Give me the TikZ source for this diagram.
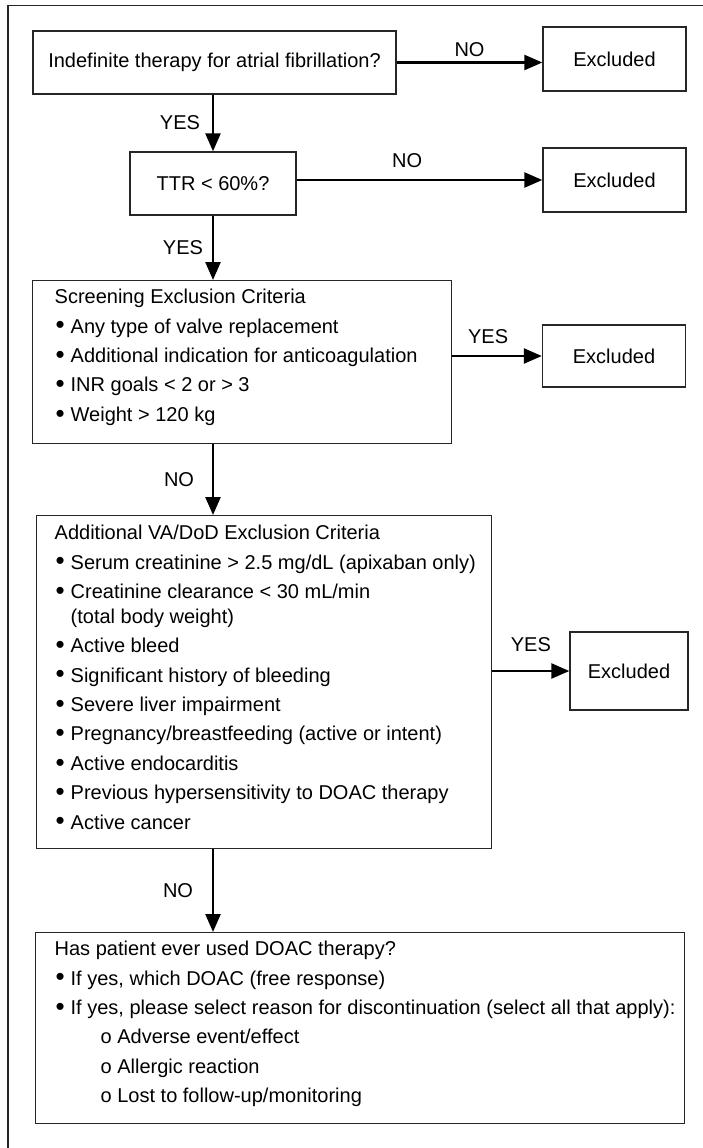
\documentclass[tikz,border=0pt]{standalone}
\usepackage{fontspec}
\usepackage{graphicx}
\setmainfont{Liberation Sans}
\usetikzlibrary{arrows.meta}
\newcommand\fs{\fontsize{20}{29.4}\selectfont}
\newcommand\bul{\makebox[16pt][l]{\hspace{1pt}\raisebox{-0.8pt}{\scalebox{1.3}{•}}}}
\begin{document}
\begin{tikzpicture}[x=1pt,y=-1pt,
  box/.style={draw=black!85, line width=1.35pt, inner sep=0pt, font=\fs},
  conn/.style={line width=2.4pt, -{Triangle[length=18pt,width=15pt]}},
  lab/.style={font=\fs, inner sep=0pt}]
\useasboundingbox (0,0) rectangle (703,1148);
\clip (0,0) rectangle (703,1148);
\draw[line width=1.3pt, black!85] (8,1160) -- (8,5.5) -- (720,5.5);

\node[box, minimum width=363pt, minimum height=63pt] (q1) at (214.5,62.5) {Indefinite therapy for atrial fibrillation?};
\node[box, minimum width=143pt, minimum height=64pt] (x1) at (614.5,59) {Excluded};
\node[box, minimum width=166pt, minimum height=63pt] (q2) at (213,183.5) {TTR < 60\%?};
\node[box, minimum width=143pt, minimum height=64pt] (x2) at (614.5,180) {Excluded};

\node[box, anchor=north west] (scr) at (32,280) {\hspace*{22pt}\parbox[c][163pt][t]{397pt}{\raggedright\vspace*{2.4pt}\strut Screening Exclusion Criteria\\
\bul Any type of valve replacement\\
\bul Additional indication for anticoagulation\\
\bul INR goals < 2 or > 3\\
\bul Weight > 120 kg}};
\node[box, minimum width=143pt, minimum height=62pt] (x3) at (614,356) {Excluded};

\node[box, anchor=north west] (va) at (36,515) {\hspace*{18pt}\parbox[c][333pt][t]{437pt}{\raggedright\vspace*{3.4pt}\strut Additional VA/DoD Exclusion Criteria\\
\bul Serum creatinine > 2.5 mg/dL (apixaban only)\\
\bul Creatinine clearance < 30 mL/min\\[-4.5pt]
\hspace*{16pt}(total body weight)\\
\bul Active bleed\\
\bul Significant history of bleeding\\
\bul Severe liver impairment\\
\bul Pregnancy/breastfeeding (active or intent)\\
\bul Active endocarditis\\
\bul Previous hypersensitivity to DOAC therapy\\
\bul Active cancer}};
\node[box, minimum width=118pt, minimum height=78pt] (x4) at (629,671) {Excluded};

\node[box, anchor=north west] (last) at (35,932) {\hspace*{19pt}\parbox[c][191pt][t]{630pt}{\raggedright\vspace*{2.4pt}\strut Has patient ever used DOAC therapy?\\
\bul If yes, which DOAC (free response)\\
\bul If yes, please select reason for discontinuation (select all that apply):\\
\hspace*{46pt}o Adverse event/effect\\
\hspace*{46pt}o Allergic reaction\\
\hspace*{46pt}o Lost to follow-up/monitoring}};

% horizontal connectors
\draw[conn] (q1.east) -- node[lab, above=5pt] {NO} (q1.east -| x1.west);
\draw[conn] (q2.east |- x2.west) -- node[lab, above=11pt, pos=0.45] {NO} (x2.west);
\draw[conn] (scr.east |- x3.west) -- node[lab, above=11pt, pos=0.4] {YES} (x3.west);
\draw[conn] (va.east |- x4.west) -- node[lab, above=18pt] {YES} (x4.west);

% vertical connectors
\draw[conn] (q1.south -| q2.north) -- node[lab, xshift=-33pt] {YES} (q2.north);
\draw[conn] (q2.south) -- node[lab, xshift=-30pt] {YES} (q2.south |- scr.north);
\draw[conn] (q2.south |- scr.south) -- node[lab, xshift=-34pt] {NO} (q2.south |- va.north);
\draw[conn] (q2.south |- va.south) -- node[lab, xshift=-35pt] {NO} (q2.south |- last.north);
\end{tikzpicture}
\end{document}
